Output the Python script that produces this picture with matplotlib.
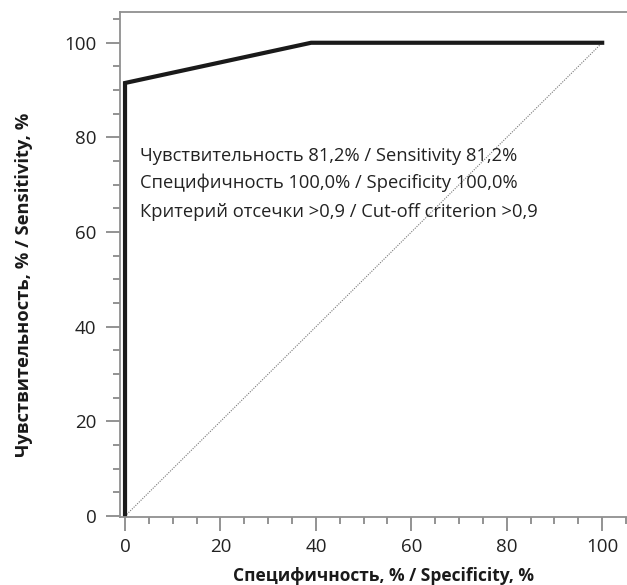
import matplotlib
matplotlib.use("Agg")
import matplotlib.pyplot as plt
from matplotlib.ticker import MultipleLocator

plt.rcParams['font.family'] = ['Open Sans', 'DejaVu Sans']

roc_x = [0, 0, 39, 100]
roc_y = [0, 91.5, 100, 100]
diag_x = [0, 100]
diag_y = [0, 100]
x_ticks = [0, 20, 40, 60, 80, 100]
y_ticks = [0, 20, 40, 60, 80, 100]
annotations = [
    "Чувствительность 81,2% / Sensitivity 81,2%",
    "Специфичность 100,0% / Specificity 100,0%",
    "Критерий отсечки >0,9 / Cut-off criterion >0,9",
]
annot_y = [75.05, 69.3, 63.2]

fig = plt.figure(figsize=(6.27, 5.85), dpi=100)
ax = fig.add_axes([0.1914, 0.1162, 0.8086, 0.8633])

ax.plot(diag_x, diag_y, color="#777777", lw=0.8, ls=(0, (1, 1.2)))
ax.plot(roc_x, roc_y, color="#1a1a1a", lw=3.0, solid_joinstyle="miter")

ax.set_xlim(-1.05, 105.2)
ax.set_ylim(-0.2, 106.5)
ax.set_xticks(x_ticks)
ax.set_yticks(y_ticks)
ax.xaxis.set_minor_locator(MultipleLocator(5))
ax.yaxis.set_minor_locator(MultipleLocator(5))
ax.tick_params(which="major", length=10, width=1.2, color="#808080", labelsize=13.5,
               labelcolor="#222222")
ax.tick_params(axis="x", which="major", pad=5)
ax.tick_params(axis="y", which="major", pad=7)
ax.tick_params(which="minor", length=5, width=1.2, color="#808080")
ax.spines["right"].set_visible(False)
for s in ["left", "bottom", "top"]:
    ax.spines[s].set_color("#909090")
    ax.spines[s].set_linewidth(1.3)

for txt, yy in zip(annotations, annot_y):
    ax.text(3.1, yy, txt, fontsize=13.2, va="baseline", ha="left", color="#222222")

ax.set_xlabel("Специфичность, % / Specificity, %", fontsize=12.5, fontweight="bold",
              labelpad=8, color="#1a1a1a")
ax.xaxis.label.set_x(0.52)
ax.set_ylabel("Чувствительность, % / Sensitivity, %", fontsize=13.2, fontweight="bold",
              color="#1a1a1a")
ax.yaxis.set_label_coords(-0.172, 0.46)

fig.savefig("out.png", dpi=100)
